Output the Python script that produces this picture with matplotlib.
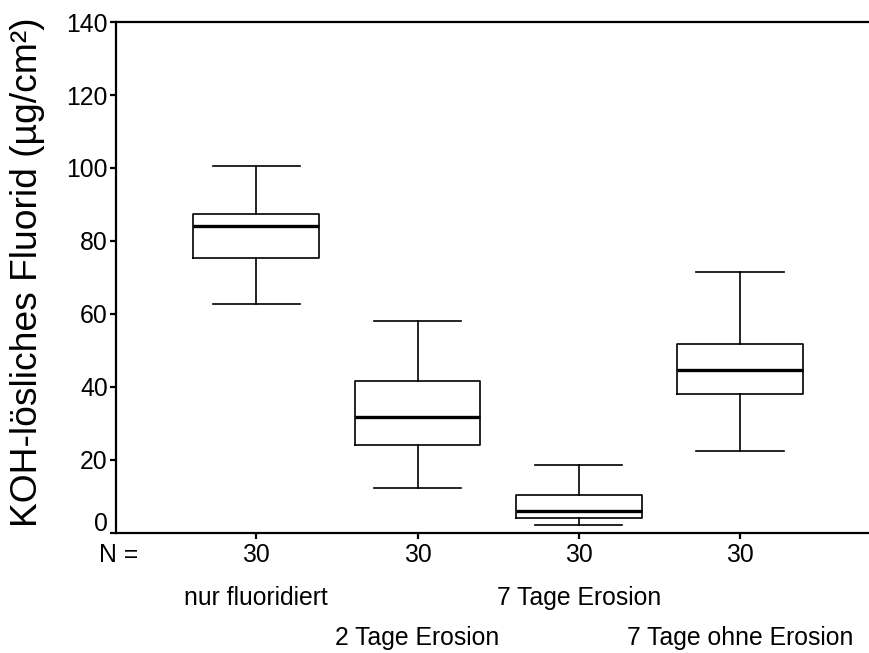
import matplotlib.pyplot as plt
from matplotlib.transforms import ScaledTranslation

plt.rcParams['font.family'] = ['Liberation Sans', 'DejaVu Sans']

# Data
groups = ['nur fluoridiert', '2 Tage Erosion', '7 Tage Erosion', '7 Tage ohne Erosion']
counts = [30, 30, 30, 30]
whisker_low = [62.8, 12.2, 2.1, 22.4]
q1 = [75.4, 24.1, 4.0, 38.0]
medians = [84.0, 31.8, 6.1, 44.7]
q3 = [87.5, 41.6, 10.4, 51.9]
whisker_high = [100.5, 58.0, 18.7, 71.5]

stats = []
for i in range(len(groups)):
    stats.append({'whislo': whisker_low[i], 'q1': q1[i], 'med': medians[i],
                  'q3': q3[i], 'whishi': whisker_high[i], 'fliers': []})

fig = plt.figure(figsize=(8.69, 6.53), dpi=100)
ax = fig.add_axes([0.1335, 0.1838, 0.8665, 0.7825])

positions = [1, 2, 3, 4]
ax.bxp(stats, positions=positions, widths=0.78, capwidths=0.54, showfliers=False,
       boxprops=dict(color='black', linewidth=1.2),
       whiskerprops=dict(color='black', linewidth=1.2),
       capprops=dict(color='black', linewidth=1.2),
       medianprops=dict(color='black', linewidth=2.4))

ax.set_xlim(0.13, 4.8)
ax.set_ylim(0, 140)
ax.set_yticks([0, 20, 40, 60, 80, 100, 120, 140])
ax.set_xticks(positions)
ax.set_xticklabels([str(c) for c in counts])

for side in ['left', 'bottom', 'top']:
    ax.spines[side].set_linewidth(1.6)
ax.spines['right'].set_visible(False)

fs = 17.8
ax.tick_params(axis='both', direction='out', length=4, width=1.6, labelsize=fs)
ax.tick_params(axis='y', pad=2)
ax.tick_params(axis='x', pad=3)

# the 0 label sits slightly above its tick
lbl0 = ax.get_yticklabels()[0]
lbl0.set_transform(lbl0.get_transform() + ScaledTranslation(0, 11 / 100, fig.dpi_scale_trans))

ax.set_ylabel('KOH-lösliches Fluorid (µg/cm²)', fontsize=26.8, va='center')
ax.yaxis.set_label_coords(-0.118, 0.51)

# group names in two staggered rows
trans = ax.get_xaxis_transform()
for i, name in enumerate(groups):
    yrow = -0.127 if i % 2 == 0 else -0.205
    ax.text(positions[i], yrow, name, transform=trans, ha='center', va='center', fontsize=fs)

fig.text(99 / 869, 1 - 555 / 653, 'N =', ha='left', va='center', fontsize=fs)

fig.savefig('out.png', dpi=100)
